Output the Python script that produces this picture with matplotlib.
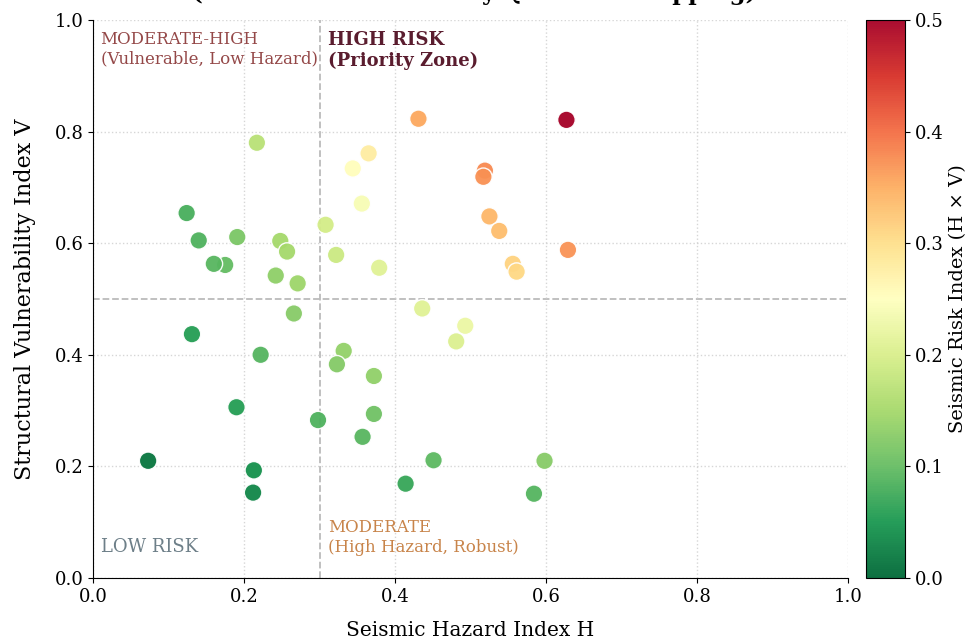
import numpy as np
import matplotlib
matplotlib.use("Agg")
import matplotlib.pyplot as plt

plt.rcParams['font.family'] = ['DejaVu Serif']

# hazard (H) and vulnerability (V) indices of the assessed buildings
hazard = [0.431, 0.627, 0.365, 0.344, 0.519, 0.517, 0.356, 0.308, 0.525, 0.538,
          0.322, 0.379, 0.629, 0.556, 0.561, 0.436, 0.217, 0.124, 0.140, 0.191,
          0.248, 0.257, 0.175, 0.160, 0.242, 0.271, 0.266, 0.131, 0.222, 0.332,
          0.323, 0.372, 0.190, 0.298, 0.357, 0.372, 0.073, 0.213, 0.212, 0.493,
          0.481, 0.451, 0.414, 0.598, 0.584]
vulnerability = [0.823, 0.821, 0.761, 0.734, 0.730, 0.719, 0.671, 0.633, 0.648, 0.622,
                 0.579, 0.556, 0.588, 0.563, 0.549, 0.483, 0.780, 0.654, 0.605, 0.611,
                 0.604, 0.585, 0.561, 0.563, 0.542, 0.528, 0.474, 0.437, 0.400, 0.407,
                 0.383, 0.362, 0.306, 0.283, 0.253, 0.294, 0.210, 0.193, 0.153, 0.452,
                 0.424, 0.211, 0.169, 0.210, 0.151]

h_thresh = 0.3
v_thresh = 0.5

H = np.array(hazard)
V = np.array(vulnerability)
risk = H * V

fig = plt.figure(figsize=(9.67, 6.43), dpi=100)
ax = fig.add_axes([0.0962, 0.1011, 0.7808, 0.8678])
cax = fig.add_axes([0.8956, 0.1011, 0.0403, 0.8678])

sc = ax.scatter(H, V, c=risk, cmap='RdYlGn_r', vmin=0, vmax=0.5, s=160,
                edgecolors='white', linewidths=1.0, alpha=0.95, zorder=3)

ax.axvline(h_thresh, color='#bbbbbb', ls='--', lw=1.3, zorder=1)
ax.axhline(v_thresh, color='#bbbbbb', ls='--', lw=1.3, zorder=1)

ax.set_xlim(0, 1)
ax.set_ylim(0, 1)
ax.set_xticks(np.arange(0, 1.01, 0.2))
ax.set_yticks(np.arange(0, 1.01, 0.2))
ax.grid(True, ls=':', color='#cccccc', lw=1.0, alpha=0.8, zorder=0)
ax.spines['top'].set_visible(False)
ax.spines['right'].set_visible(False)
ax.tick_params(labelsize=13)

ax.set_xlabel('Seismic Hazard Index H', fontsize=14.5, labelpad=11)
ax.set_ylabel('Structural Vulnerability Index V', fontsize=16, labelpad=13)

# quadrant labels
ax.text(0.01, 0.98, 'MODERATE-HIGH\n(Vulnerable, Low Hazard)', fontsize=12,
        color='#944848', va='top', ha='left')
ax.text(0.311, 0.98, 'HIGH RISK\n(Priority Zone)', fontsize=13, fontweight='bold',
        color='#5a1c2e', va='top', ha='left')
ax.text(0.01, 0.04, 'LOW RISK', fontsize=13, color='#6d7f88', va='bottom', ha='left')
ax.text(0.311, 0.04, 'MODERATE\n(High Hazard, Robust)', fontsize=12,
        color='#c8844a', va='bottom', ha='left')

cb = fig.colorbar(sc, cax=cax)
cb.set_label('Seismic Risk Index (H × V)', fontsize=14)
cb.ax.tick_params(labelsize=13)

fig.text(0.49, 0.992, 'Seismic Risk Assessment\n(Hazard × Vulnerability Quadrant Mapping)',
         ha='center', va='bottom', fontsize=16.5, fontweight='bold')

fig.savefig('out.png', dpi=100)
